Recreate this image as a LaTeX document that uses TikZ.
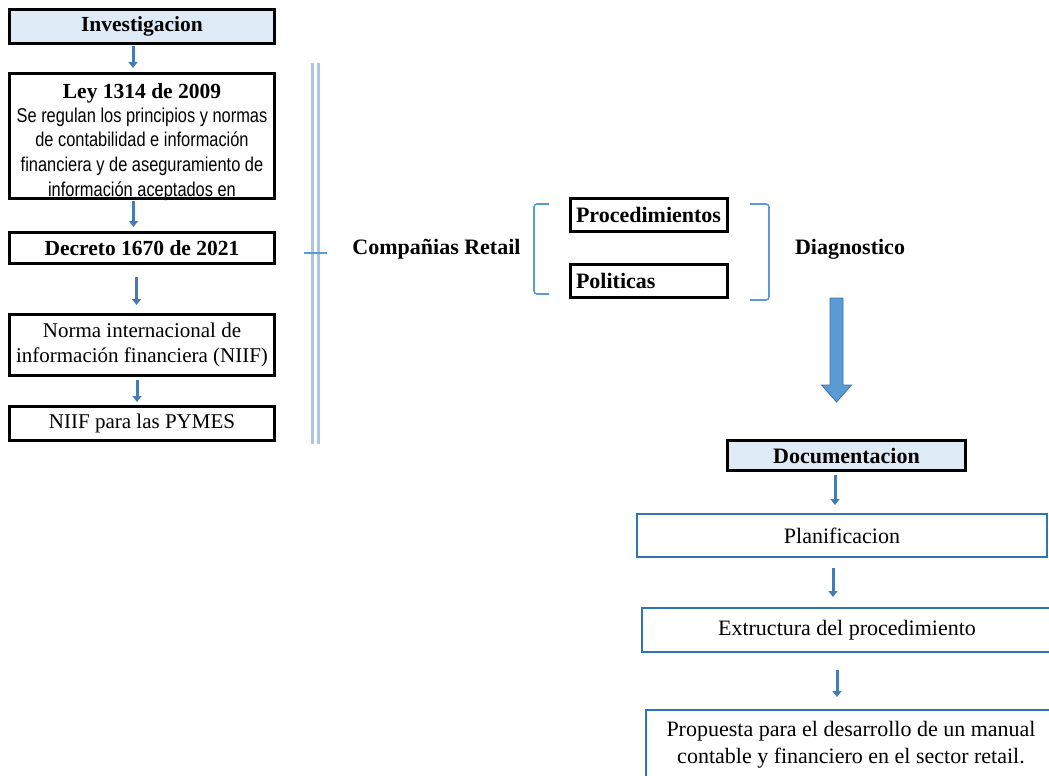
\documentclass[tikz,border=0pt]{standalone}
\usepackage{fontspec}
\setmainfont{Liberation Serif}
\newfontfamily\narrowsans[FakeStretch=0.82]{Liberation Sans}
\usetikzlibrary{arrows.meta}

\definecolor{boxfill}{RGB}{222,235,247}
\definecolor{stepblue}{RGB}{72,122,180}
\definecolor{frameblue}{RGB}{46,117,182}
\definecolor{bracketblue}{RGB}{91,155,213}
\definecolor{railblue}{RGB}{165,200,233}
\definecolor{arrowedge}{RGB}{65,113,156}

\begin{document}
\begin{tikzpicture}[x=1pt,y=-1pt,
  every node/.style={inner sep=0pt, outer sep=0pt},
  base/.style={font=\fontsize{21}{25}\selectfont},
  boldtext/.style={font=\fontsize{21.5}{25}\selectfont\bfseries},
  widebold/.style={font=\fontsize{22}{25}\selectfont\bfseries},
  blackbox/.style={draw=black, line width=3pt, fill=white, align=center, base},
  headbox/.style={blackbox, fill=boxfill, boldtext},
  tagbox/.style={draw=black, line width=3pt, fill=white, widebold, align=left,
                 text width=145pt, inner xsep=6pt, minimum height=33pt},
  bluebox/.style={draw=frameblue, line width=1.8pt, fill=white, align=center,
                  minimum width=410pt, font=\fontsize{22}{27}\selectfont},
  flow/.style={draw=stepblue, line width=3pt, -{Triangle[width=9pt,length=6pt]}},
  bracket/.style={draw=bracketblue, line width=1.6pt, rounded corners=3pt},
  rail/.style={draw=railblue, line width=3.5pt}]

\useasboundingbox (0,0) rectangle (1049,776);
\clip (0,0) rectangle (1049,776);

% left column: legal framework
\node[headbox, minimum width=265pt, minimum height=34pt] (inv) at (142,26.5) {Investigacion};
\node[boldtext] (leytitle) at (142,93) {Ley 1314 de 2009};
\node[align=center, font=\narrowsans\fontsize{20}{24.6}\selectfont] (leytext) at (142,154)
  {Se regulan los principios y normas\\de contabilidad e información\\financiera y de aseguramiento de\\información aceptados en};
\node[draw=black, line width=3pt, minimum width=265pt, minimum height=125pt] (ley) at (142,136) {};
\node[blackbox, boldtext, minimum width=265pt, minimum height=31pt] (dec) at (142,248) {Decreto 1670 de 2021};
\node[blackbox, minimum width=265pt, minimum height=61pt] (norma) at (142,345)
  {Norma internacional de\\información financiera (NIIF)};
\node[blackbox, minimum width=265pt, minimum height=34pt] (niif) at (142,423.5) {NIIF para las PYMES};

\draw[flow, shorten <=2.5pt, shorten >=5.5pt] ([xshift=-9pt]inv.south) -- ([xshift=-9pt]inv.south |- ley.north);
\draw[flow, shorten <=2.5pt, shorten >=5.5pt] ([xshift=-8.5pt]ley.south) -- ([xshift=-8.5pt]ley.south |- dec.north);
\draw[flow, shorten <=13.5pt, shorten >=9.5pt] ([xshift=-5.5pt]dec.south) -- ([xshift=-5.5pt]dec.south |- norma.north);
\draw[flow, shorten <=4.5pt, shorten >=4.5pt] ([xshift=-5pt]norma.south) -- ([xshift=-5pt]norma.south |- niif.north);

% double rail with its tick
\draw[rail] (312.5,63) -- (312.5,444);
\draw[rail] (318.5,63) -- (318.5,444);
\draw[draw=bracketblue, line width=1.5pt] (304,253) -- (327,253);

% middle: companies, aspects, diagnosis
\node[widebold] (retail) at (436.5,249) {Compañias Retail};
\draw[bracket] (549,204) -- (534,204) -- (534,294) -- (549,294);
\node[tagbox] (proc) at (648.5,215) {Procedimientos};
\node[tagbox] (pol) at (648.5,281) {Politicas};
\draw[bracket] (750,204) -- (769,204) -- (769,300) -- (750,300);
\node[widebold] (diag) at (850,249) {Diagnostico};

% block arrow down to the documentation stage
\filldraw[fill=bracketblue, draw=arrowedge, line width=0.8pt]
  (830,298) -- (843,298) -- (843,385) -- (851.5,385) -- (836.5,402)
  -- (821.5,385) -- (830,385) -- cycle;

% right column: documentation
\node[headbox, widebold, minimum width=238pt, minimum height=30pt] (doc) at (846.5,455.5) {Documentacion};
\node[bluebox, minimum height=43pt] (plan) at (842,535.5) {Planificacion};
\node[bluebox, minimum height=44pt] (ext) at (847,630) {Extructura del procedimiento};
\node[bluebox, minimum height=70pt] (prop) at (851,745)
  {Propuesta para el desarrollo de un manual\\contable y financiero en el sector retail.};

\draw[flow, shorten <=4.5pt, shorten >=9pt] ([xshift=-11.5pt]doc.south) -- ([xshift=-11.5pt]doc.south |- plan.north);
\draw[flow, shorten <=11pt, shorten >=11pt] ([xshift=-9pt]plan.south) -- ([xshift=-9pt]plan.south |- ext.north);
\draw[flow, shorten <=18pt, shorten >=13pt] ([xshift=-10pt]ext.south) -- ([xshift=-10pt]ext.south |- prop.north);
\end{tikzpicture}
\end{document}
